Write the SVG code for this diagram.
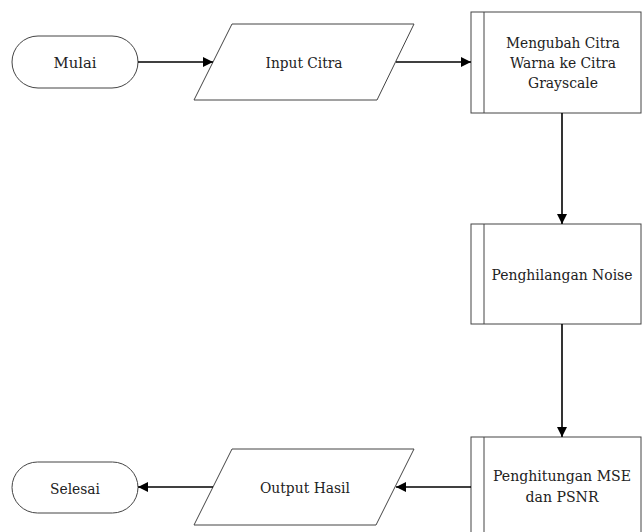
<svg xmlns="http://www.w3.org/2000/svg" width="643" height="532" viewBox="0 0 643 532">
<defs>
<style>
.shape{fill:#fff;stroke:#444;stroke-width:1}
.txt{font-family:'DejaVu Serif','Liberation Serif',serif;font-size:15px;fill:#222;text-anchor:middle}
.conn{stroke:#000;stroke-width:1.6;fill:none}
</style>
<marker id="arr" viewBox="0 0 10 10" refX="10" refY="5" markerWidth="10" markerHeight="10" markerUnits="userSpaceOnUse" orient="auto">
<path d="M0,0 L10,5 L0,10 z" fill="#000"/>
</marker>
</defs>
<rect width="643" height="532" fill="#fff"/>
<g id="mulai">
<rect class="shape" x="12" y="36" width="126" height="52" rx="26" ry="26"/>
<text class="txt" x="75" y="68" textLength="43" lengthAdjust="spacingAndGlyphs">Mulai</text>
</g>
<g id="input-citra">
<polygon class="shape" points="232,24 414,24 377,100 194,100"/>
<text class="txt" x="304" y="68" textLength="77" lengthAdjust="spacingAndGlyphs">Input Citra</text>
</g>
<g id="grayscale">
<rect class="shape" x="471" y="12" width="170" height="101"/>
<line class="shape" x1="484" y1="12" x2="484" y2="113"/>
<text class="txt" x="563" y="48" textLength="114" lengthAdjust="spacingAndGlyphs">Mengubah Citra</text>
<text class="txt" x="563" y="68" textLength="106" lengthAdjust="spacingAndGlyphs">Warna ke Citra</text>
<text class="txt" x="563" y="88" textLength="70" lengthAdjust="spacingAndGlyphs">Grayscale</text>
</g>
<g id="noise">
<rect class="shape" x="471" y="224" width="170" height="100"/>
<line class="shape" x1="484" y1="224" x2="484" y2="324"/>
<text class="txt" x="562" y="280" textLength="141" lengthAdjust="spacingAndGlyphs">Penghilangan Noise</text>
</g>
<g id="mse-psnr">
<rect class="shape" x="471" y="437" width="170" height="100"/>
<line class="shape" x1="484" y1="437" x2="484" y2="537"/>
<text class="txt" x="562" y="481" textLength="138" lengthAdjust="spacingAndGlyphs">Penghitungan MSE</text>
<text class="txt" x="562" y="502" textLength="73" lengthAdjust="spacingAndGlyphs">dan PSNR</text>
</g>
<g id="output-hasil">
<polygon class="shape" points="232,449 414,449 376,525 194,525"/>
<text class="txt" x="305" y="493" textLength="90" lengthAdjust="spacingAndGlyphs">Output Hasil</text>
</g>
<g id="selesai">
<rect class="shape" x="12" y="462" width="126" height="51" rx="25.5" ry="25.5"/>
<text class="txt" x="75" y="494" textLength="50" lengthAdjust="spacingAndGlyphs">Selesai</text>
</g>
<g id="connectors">
<line class="conn" x1="138" y1="62" x2="213" y2="62" marker-end="url(#arr)"/>
<line class="conn" x1="396" y1="62" x2="471" y2="62" marker-end="url(#arr)"/>
<line class="conn" x1="562" y1="113" x2="562" y2="224" marker-end="url(#arr)"/>
<line class="conn" x1="562" y1="324" x2="562" y2="437" marker-end="url(#arr)"/>
<line class="conn" x1="471" y1="487" x2="396" y2="487" marker-end="url(#arr)"/>
<line class="conn" x1="213" y1="487" x2="138" y2="487" marker-end="url(#arr)"/>
</g>
</svg>
